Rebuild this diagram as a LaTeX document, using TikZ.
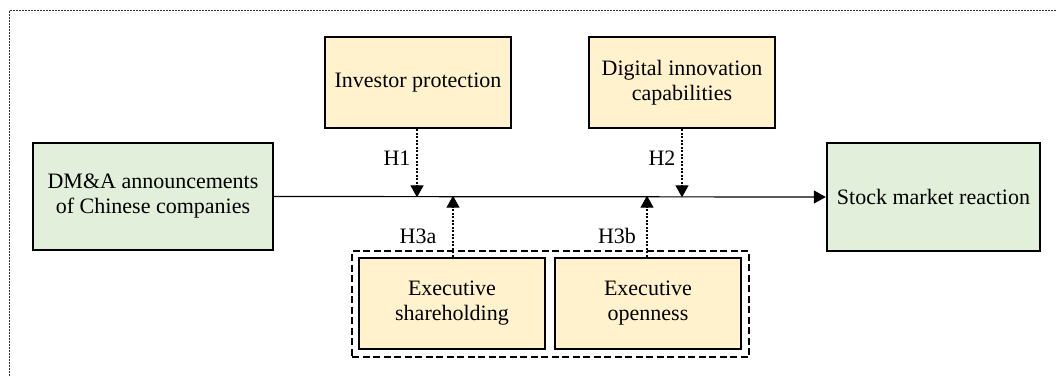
\documentclass[tikz,border=0pt]{standalone}
\usepackage{fontspec}
\setmainfont{Liberation Serif}
\usetikzlibrary{arrows.meta}
\definecolor{boxgreen}{HTML}{E2EFDA}
\definecolor{boxyellow}{HTML}{FFF2CC}
\tikzset{
  x=1pt, y=-1pt,
  every node/.style={font=\fontsize{22}{25}\selectfont},
  varbox/.style={draw=black, line width=2.4pt, align=center, inner sep=0pt},
  greenbox/.style={varbox, fill=boxgreen},
  yellowbox/.style={varbox, fill=boxyellow},
  mainarrow/.style={line width=1.2pt, -{Triangle[width=13pt,length=12pt]}},
  modarrow/.style={line width=1.3pt, dash pattern=on 2pt off 1.5pt, -{Triangle[width=13pt,length=12pt]}},
  hlabel/.style={inner sep=0pt}
}
\begin{document}
\begin{tikzpicture}
\useasboundingbox (0,0) rectangle (1057,377);
\clip (0,0) rectangle (1057,377);
% outer dotted frame (extends beyond the picture)
\draw[line width=1pt, dash pattern=on 2pt off 1pt, black!80] (9,11) rectangle (1070,390);

% nodes
\node[greenbox, minimum width=240pt, minimum height=107pt] (dma) at (153,196.5) {DM\&A announcements\\of Chinese companies};
\node[greenbox, minimum width=213pt, minimum height=108pt] (smr) at (933.5,197) {Stock market reaction};
\node[yellowbox, minimum width=186pt, minimum height=91pt] (ip) at (418,82.5) {Investor protection};
\node[yellowbox, minimum width=186pt, minimum height=91pt] (dic) at (682,82.5) {Digital innovation\\capabilities};
\node[yellowbox, minimum width=186pt, minimum height=91pt] (es) at (452,303.5) {Executive\\shareholding};
\node[yellowbox, minimum width=186pt, minimum height=91pt] (eo) at (648,303.5) {Executive\\openness};
\node[draw, line width=1.1pt, dash pattern=on 7pt off 3.5pt, minimum width=397pt, minimum height=106pt, inner sep=0pt] (grp) at (550.5,304) {};

% main relation
\draw[mainarrow] (dma.east) -- (smr.west);

% moderating arrows
\coordinate (h1end) at (ip.south |- dma.east);
\coordinate (h2end) at (dic.south |- dma.east);
\coordinate (h3aend) at ([xshift=1pt]es.north |- dma.east);
\coordinate (h3bend) at ([xshift=-1pt]eo.north |- dma.east);
\draw[modarrow] ([xshift=-1pt]ip.south) -- ([xshift=-1pt,yshift=-0.8pt]h1end);
\draw[modarrow] (dic.south) -- ([yshift=-0.8pt]h2end);
\draw[modarrow] ([xshift=1pt]es.north) -- ([yshift=0.8pt]h3aend);
\draw[modarrow] ([xshift=-1pt]eo.north) -- ([yshift=0.8pt]h3bend);

% labels
\node[hlabel] (l1) at (397,158) {H1};
\node[hlabel] (l2) at (662,158) {H2};
\node[hlabel] (l3a) at (418,236) {H3a};
\node[hlabel] (l3b) at (617,236) {H3b};
\end{tikzpicture}
\end{document}
